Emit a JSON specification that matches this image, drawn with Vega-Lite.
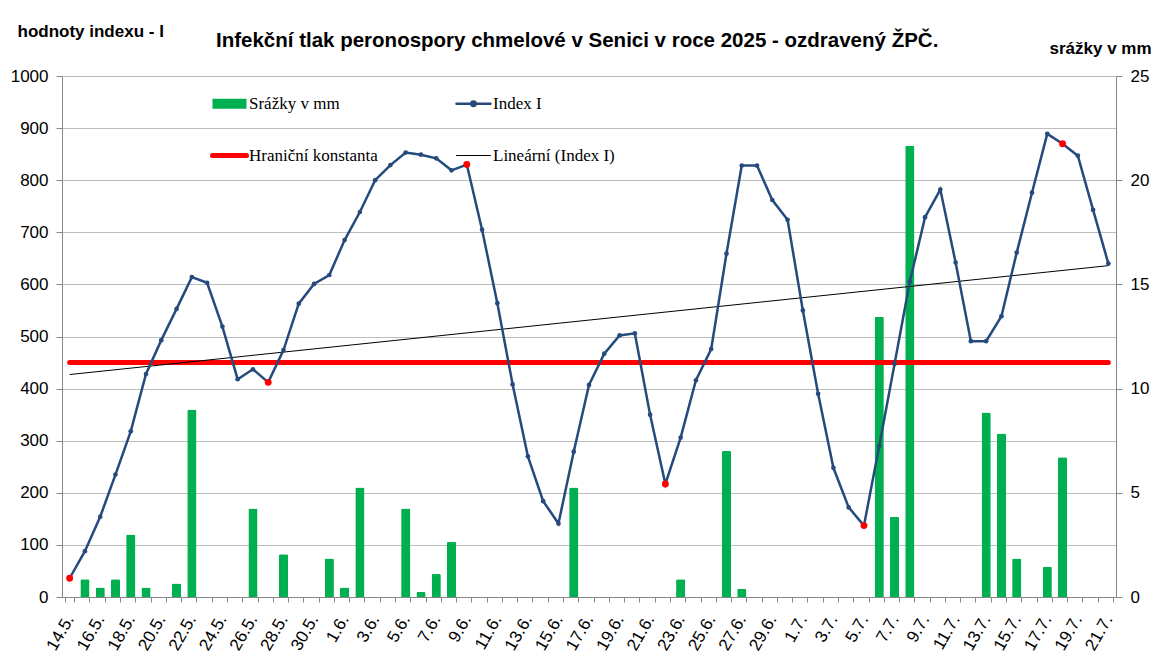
{
  "$schema": "https://vega.github.io/schema/vega-lite/v6.json",
  "width": 1054,
  "height": 521,
  "autosize": {"type": "none"},
  "padding": {"left": 62, "top": 76, "right": 37, "bottom": 62},
  "background": "white",
  "config": {"view": {"stroke": null}},
  "title": {
    "text": "Infekční tlak peronospory chmelové  v Senici v roce 2025 - ozdravený ŽPČ.",
    "anchor": "start", "frame": "group", "dx": 154, "dy": 55,
    "font": "Liberation Sans, Arial, sans-serif", "fontSize": 20.5, "fontWeight": "bold", "color": "black",
    "baseline": "alphabetic", "offset": 10
  },
  "data": {"values": [
    {"d":"14.5.","i":36,"r":0,"red":1,"lim":450,"tr":427},
    {"d":"15.5.","i":88,"r":0.85},
    {"d":"16.5.","i":154,"r":0.45},
    {"d":"17.5.","i":235,"r":0.85},
    {"d":"18.5.","i":318,"r":3.0},
    {"d":"19.5.","i":428,"r":0.45},
    {"d":"20.5.","i":493,"r":0},
    {"d":"21.5.","i":553,"r":0.65},
    {"d":"22.5.","i":614,"r":9.0},
    {"d":"23.5.","i":603,"r":0},
    {"d":"24.5.","i":519,"r":0},
    {"d":"25.5.","i":418,"r":0},
    {"d":"26.5.","i":437,"r":4.25},
    {"d":"27.5.","i":412,"r":0,"red":1},
    {"d":"28.5.","i":474,"r":2.05},
    {"d":"29.5.","i":563,"r":0},
    {"d":"30.5.","i":601,"r":0},
    {"d":"31.5.","i":618,"r":1.85},
    {"d":"1.6.","i":685,"r":0.45},
    {"d":"2.6.","i":739,"r":5.25},
    {"d":"3.6.","i":800,"r":0},
    {"d":"4.6.","i":829,"r":0},
    {"d":"5.6.","i":853,"r":4.25},
    {"d":"6.6.","i":849,"r":0.25},
    {"d":"7.6.","i":842,"r":1.1},
    {"d":"8.6.","i":819,"r":2.65},
    {"d":"9.6.","i":830,"r":0,"red":1},
    {"d":"10.6.","i":705,"r":0},
    {"d":"11.6.","i":564,"r":0},
    {"d":"12.6.","i":408,"r":0},
    {"d":"13.6.","i":270,"r":0},
    {"d":"14.6.","i":184,"r":0},
    {"d":"15.6.","i":141,"r":0},
    {"d":"16.6.","i":279,"r":5.25},
    {"d":"17.6.","i":407,"r":0},
    {"d":"18.6.","i":467,"r":0},
    {"d":"19.6.","i":502,"r":0},
    {"d":"20.6.","i":506,"r":0},
    {"d":"21.6.","i":350,"r":0},
    {"d":"22.6.","i":217,"r":0,"red":1},
    {"d":"23.6.","i":306,"r":0.85},
    {"d":"24.6.","i":416,"r":0},
    {"d":"25.6.","i":476,"r":0},
    {"d":"26.6.","i":659,"r":7.0},
    {"d":"27.6.","i":828,"r":0.4},
    {"d":"28.6.","i":828,"r":0},
    {"d":"29.6.","i":762,"r":0},
    {"d":"30.6.","i":724,"r":0},
    {"d":"1.7.","i":550,"r":0},
    {"d":"2.7.","i":390,"r":0},
    {"d":"3.7.","i":248,"r":0},
    {"d":"4.7.","i":172,"r":0},
    {"d":"5.7.","i":137,"r":0,"red":1},
    {"d":"6.7.","i":290,"r":13.45},
    {"d":"7.7.","i":447,"r":3.85},
    {"d":"8.7.","i":605,"r":21.65},
    {"d":"9.7.","i":729,"r":0},
    {"d":"10.7.","i":782,"r":0},
    {"d":"11.7.","i":642,"r":0},
    {"d":"12.7.","i":491,"r":0},
    {"d":"13.7.","i":491,"r":8.85},
    {"d":"14.7.","i":539,"r":7.85},
    {"d":"15.7.","i":661,"r":1.85},
    {"d":"16.7.","i":776,"r":0},
    {"d":"17.7.","i":889,"r":1.45},
    {"d":"18.7.","i":870,"r":6.7,"red":1},
    {"d":"19.7.","i":847,"r":0},
    {"d":"20.7.","i":743,"r":0},
    {"d":"21.7.","i":640,"r":0,"lim":450,"tr":636}
  ]},
  "encoding": {
    "x": {
      "field": "d", "type": "ordinal", "sort": null,
      "scale": {"paddingInner": 0.4, "paddingOuter": 0.2},
      "axis": {
        "title": null, "tickBand": "extent", "grid": false,
        "labelExpr": "(toNumber(split(datum.value,'.')[1]) == 5) == (toNumber(split(datum.value,'.')[0]) % 2 == 0) ? datum.label : ''",
        "labelAngle": -60, "labelAlign": "right", "labelBaseline": "middle",
        "labelFont": "Liberation Sans, Arial, sans-serif", "labelFontSize": 17, "labelColor": "black",
        "labelPadding": 14, "labelOverlap": false,
        "domainColor": "#868686", "tickColor": "#868686", "tickSize": 5
      }
    }
  },
  "layer": [
    {
      "mark": {"type": "bar", "color": "#00B050", "cornerRadiusTopLeft": 1.5, "cornerRadiusTopRight": 1.5},
      "encoding": {
        "y": {
          "field": "r", "type": "quantitative",
          "scale": {"domain": [0, 25]},
          "axis": {
            "orient": "right", "values": [0, 5, 10, 15, 20, 25], "grid": false, "format": "d",
            "title": "srážky v mm", "titleAngle": 0, "titleAlign": "left", "titleBaseline": "alphabetic",
            "titleX": -67, "titleY": -23, "titleFont": "Liberation Sans, Arial, sans-serif", "titleFontSize": 17,
            "titleFontWeight": "bold", "titleColor": "black",
            "labelFont": "Liberation Sans, Arial, sans-serif", "labelFontSize": 17, "labelColor": "black",
            "labelPadding": 8, "tickSize": 6, "domainColor": "#868686", "tickColor": "#868686"
          }
        },
        "color": {
          "datum": "Srážky v mm",
          "scale": {
            "domain": ["Srážky v mm", "Hraniční konstanta", "Index I", "Lineární (Index I)"],
            "range": ["#00B050", "#FF0000", "#254A7C", "#000000"]
          },
          "legend": {
            "orient": "none", "legendX": 159, "legendY": 19, "columns": 2, "title": null,
            "padding": 0, "labelFont": "Liberation Serif, Times New Roman, DejaVu Serif, serif", "labelFontSize": 17, "labelColor": "black",
            "symbolSize": 1156, "columnPadding": 73, "rowPadding": 33, "labelOffset": 11,
            "symbolType": "M-1,-0.3H1V0.3H-1Z",
            "encoding": {
              "symbols": {
                "shape": {"value": {"expr": "datum.value === 'Srážky v mm' ? 'M-1,-0.3H1V0.3H-1Z' : (datum.value === 'Index I' ? 'M-1,0H1M-0.13,0A0.13,0.13 0 1 0 0.13,0A0.13,0.13 0 1 0 -0.13,0' : 'M-1,0H1')"}},
                "fill": {"value": {"expr": "datum.value === 'Srážky v mm' ? '#00B050' : (datum.value === 'Index I' ? '#254A7C' : 'transparent')"}},
                "stroke": {"value": {"expr": "datum.value === 'Srážky v mm' ? '#00B050' : (datum.value === 'Index I' ? '#254A7C' : (datum.value === 'Hraniční konstanta' ? '#FF0000' : '#000000'))"}},
                "strokeWidth": {"value": {"expr": "datum.value === 'Srážky v mm' ? 0 : (datum.value === 'Index I' ? 2.5 : (datum.value === 'Hraniční konstanta' ? 5 : 1))"}},
                "strokeCap": {"value": "round"},
                "opacity": {"value": 1},
                "fillOpacity": {"value": 1},
                "strokeOpacity": {"value": 1}
              }
            }
          }
        }
      }
    },
    {
      "layer": [
        {
          "transform": [{"filter": "isValid(datum.lim)"}],
          "mark": {"type": "line", "color": "#FF0000", "strokeWidth": 5, "strokeCap": "round"},
          "encoding": {
            "y": {
              "field": "lim", "type": "quantitative", "scale": {"domain": [0, 1000]},
              "title": "hodnoty indexu - I",
              "axis": {
                "orient": "left", "values": [0,100,200,300,400,500,600,700,800,900,1000], "format": "d",
                "grid": true, "gridColor": "#BDBDBD", "gridWidth": 1,
                "titleAngle": 0, "titleAlign": "left", "titleBaseline": "alphabetic",
                "titleX": -45, "titleY": -40, "titleFont": "Liberation Sans, Arial, sans-serif", "titleFontSize": 17,
                "titleFontWeight": "bold", "titleColor": "black",
                "labelFont": "Liberation Sans, Arial, sans-serif", "labelFontSize": 17, "labelColor": "black",
                "labelPadding": 8, "tickSize": 6, "domainColor": "#868686", "tickColor": "#868686"
              }
            },
            "color": {"datum": "Hraniční konstanta"}
          }
        },
        {
          "transform": [{"filter": "isValid(datum.tr)"}],
          "mark": {"type": "line", "color": "#000000", "strokeWidth": 1},
          "encoding": {
            "y": {"field": "tr", "type": "quantitative", "scale": {"domain": [0, 1000]}, "title": "hodnoty indexu - I"},
            "color": {"datum": "Lineární (Index I)"}
          }
        },
        {
          "mark": {"type": "line", "color": "#254A7C", "strokeWidth": 2.5},
          "encoding": {
            "y": {"field": "i", "type": "quantitative", "scale": {"domain": [0, 1000]}, "title": "hodnoty indexu - I"},
            "color": {"datum": "Index I"}
          }
        },
        {
          "transform": [{"filter": "!isValid(datum.red)"}],
          "mark": {"type": "point", "filled": true, "size": 22, "color": "#254A7C", "opacity": 1},
          "encoding": {
            "y": {"field": "i", "type": "quantitative", "scale": {"domain": [0, 1000]}, "title": "hodnoty indexu - I"}
          }
        },
        {
          "transform": [{"filter": "isValid(datum.red)"}],
          "mark": {"type": "point", "filled": true, "size": 48, "color": "#FF0000", "opacity": 1},
          "encoding": {
            "y": {"field": "i", "type": "quantitative", "scale": {"domain": [0, 1000]}, "title": "hodnoty indexu - I"}
          }
        }
      ]
    }
  ],
  "resolve": {"scale": {"y": "independent"}}
}
